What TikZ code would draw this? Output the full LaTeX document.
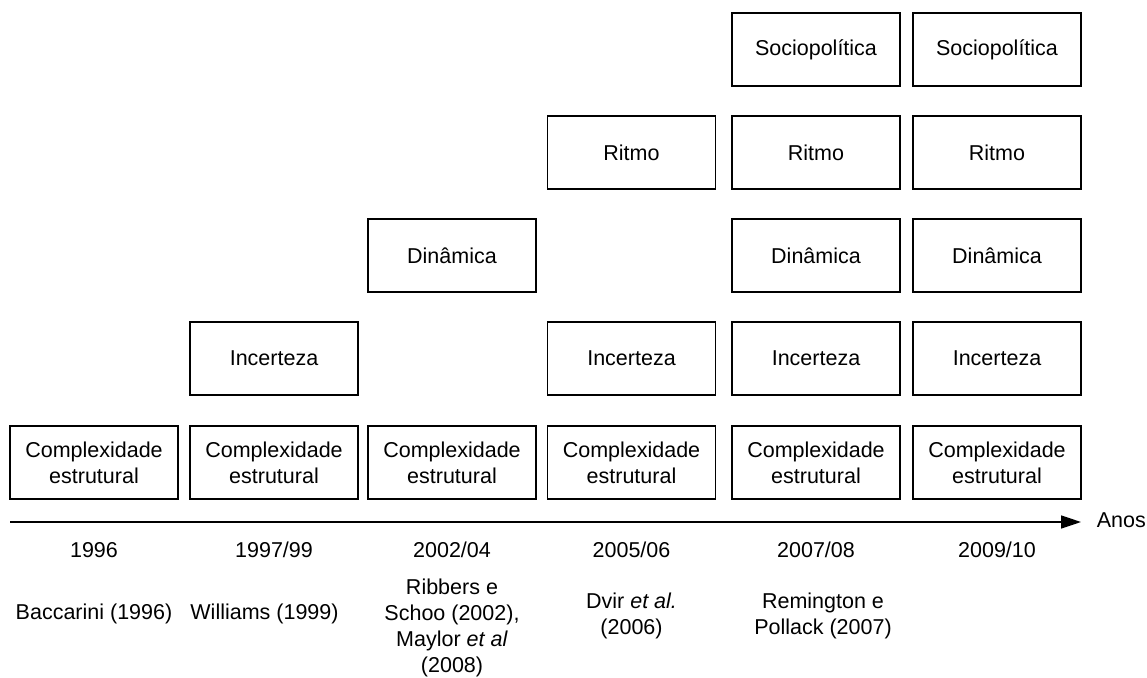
\documentclass[tikz,border=0pt]{standalone}
\usepackage{fontspec}
\setmainfont{Liberation Sans}
\usetikzlibrary{arrows.meta}
\begin{document}
\begin{tikzpicture}[x=1pt,y=-1pt,
  every node/.style={font=\fontsize{21.5}{26}\selectfont, align=center, inner sep=0pt},
  box/.style={draw=black, line width=1.7pt, minimum width=168pt, minimum height=73pt},
  axis/.style={line width=1.7pt, -{Triangle[length=20pt,width=13pt]}},
  lbl/.style={text=black}]
\useasboundingbox (0,0) rectangle (1147,677);
% column centres: 94, 274, 452, 631.5, 816, 997
% row centres: 49.5, 152.5, 255.5, 358.5, 462.5
% bottom row
\node[box] (c1) at (94,462.5) {Complexidade\\estrutural};
\node[box] (c2) at (274,462.5) {Complexidade\\estrutural};
\node[box] (c3) at (452,462.5) {Complexidade\\estrutural};
\node[box] (c4) at (631.5,462.5) {Complexidade\\estrutural};
\node[box] (c5) at (816,462.5) {Complexidade\\estrutural};
\node[box] (c6) at (997,462.5) {Complexidade\\estrutural};
% uncertainty
\node[box] (i2) at (274,358.5) {Incerteza};
\node[box] (i4) at (631.5,358.5) {Incerteza};
\node[box] (i5) at (816,358.5) {Incerteza};
\node[box] (i6) at (997,358.5) {Incerteza};
% dynamics
\node[box] (d3) at (452,255.5) {Dinâmica};
\node[box] (d5) at (816,255.5) {Dinâmica};
\node[box] (d6) at (997,255.5) {Dinâmica};
% pace
\node[box] (r4) at (631.5,152.5) {Ritmo};
\node[box] (r5) at (816,152.5) {Ritmo};
\node[box] (r6) at (997,152.5) {Ritmo};
% socio-political
\node[box] (s5) at (816,49.5) {Sociopolítica};
\node[box] (s6) at (997,49.5) {Sociopolítica};
% time axis
\coordinate (axstart) at (10,522);
\coordinate (axend) at (1081,522);
\draw[axis] (axstart) -- (axend);
\node[lbl, anchor=east] (anos) at (1146,520) {Anos};
% years
\node[lbl] (y1) at (94,550) {1996};
\node[lbl] (y2) at (274,550) {1997/99};
\node[lbl] (y3) at (452,550) {2002/04};
\node[lbl] (y4) at (631.5,550) {2005/06};
\node[lbl] (y5) at (816,550) {2007/08};
\node[lbl] (y6) at (997,550) {2009/10};
% references
\node[lbl] (a1) at (94,614) {Baccarini (1996)};
\node[lbl] (a2) at (264.5,614) {Williams (1999)};
\node[lbl] (a3) at (452,628) {Ribbers e\\Schoo (2002),\\Maylor \textit{et al}\\(2008)};
\node[lbl] (a4) at (631.5,616) {Dvir \textit{et al.}\\(2006)};
\node[lbl] (a5) at (823,616) {Remington e\\Pollack (2007)};
\end{tikzpicture}
\end{document}
